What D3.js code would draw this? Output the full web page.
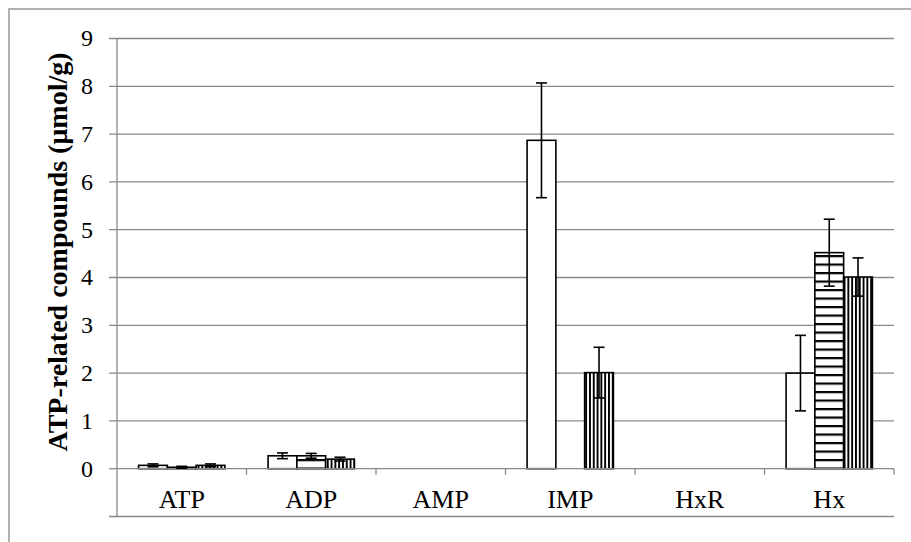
<!DOCTYPE html>
<html><head><meta charset="utf-8">
<script src="https://cdn.jsdelivr.net/npm/d3@7"></script>
<style>body{margin:0;background:#fff}svg{display:block}
text{font-family:'Liberation Serif','Times New Roman',Times,serif;fill:#000}</style>
</head><body>
<script>
const categories = ["ATP","ADP","AMP","IMP","HxR","Hx"];
const values1 = [0.07, 0.27, 0, 6.87, 0, 2.00];
const errors1 = [0.03, 0.06, 0, 1.20, 0, 0.79];
const values2 = [0.03, 0.27, 0, 0, 0, 4.52];
const errors2 = [0.02, 0.05, 0, 0, 0, 0.70];
const values3 = [0.07, 0.20, 0, 2.01, 0, 4.01];
const errors3 = [0.03, 0.04, 0, 0.53, 0, 0.40];
const yTicks = [-1,0,1,2,3,4,5,6,7,8,9];
const yTitle = "ATP-related compounds (μmol/g)";

const W = 911, H = 542;
const svg = d3.select("body").append("svg").attr("width", W).attr("height", H);
const defs = svg.append("defs");
const ph = defs.append("pattern").attr("id","hstripe").attr("patternUnits","userSpaceOnUse")
  .attr("width",8).attr("height",8.5);
ph.append("rect").attr("width",8).attr("height",8.5).attr("fill","#fff");
ph.append("rect").attr("y",0).attr("width",8).attr("height",2.2).attr("fill","#000");
const pv = defs.append("pattern").attr("id","vstripe").attr("patternUnits","userSpaceOnUse")
  .attr("width",3.8).attr("height",8);
pv.append("rect").attr("width",3.8).attr("height",8).attr("fill","#fff");
pv.append("rect").attr("x",0).attr("width",1.9).attr("height",8).attr("fill","#000");

const fills = ["#fff","url(#hstripe)","url(#vstripe)"];
const grey = "#898989";

svg.append("rect").attr("x",9).attr("y",9).attr("width",930).attr("height",560)
  .attr("fill","none").attr("stroke",grey).attr("stroke-width",1.3);

const x0 = 117, x1 = 894;
const y = d3.scaleLinear().domain([-1,9]).range([516.5,38.5]);
const x = d3.scaleBand().domain(categories).range([x0,x1]).padding(0);
const bw = x.bandwidth()/4.5;

const g = svg.append("g");
yTicks.forEach(t => {
  g.append("line").attr("x1", x0-8).attr("x2", t===0 ? x0 : x1)
    .attr("y1", y(t)).attr("y2", y(t)).attr("stroke",grey).attr("stroke-width",1.3);
  if (t >= 0) g.append("text").attr("x", 93).attr("y", y(t)).attr("dy","0.33em")
    .attr("text-anchor","end").style("font-size","24px").text(t);
});
g.append("line").attr("x1",x0).attr("x2",x0).attr("y1",y(9)).attr("y2",y(-1))
  .attr("stroke",grey).attr("stroke-width",1.3);

const series = [
  {v: values1, e: errors1},
  {v: values2, e: errors2},
  {v: values3, e: errors3}
];

series.forEach((s, si) => {
  categories.forEach((c, ci) => {
    const v = s.v[ci];
    if (!v) return;
    const bx = x(c) + x.bandwidth()/2 - 1.5*bw + si*bw;
    svg.append("rect").attr("x", bx).attr("y", y(v)).attr("width", bw).attr("height", y(0)-y(v))
      .attr("fill", fills[si]).attr("stroke","#000").attr("stroke-width",1.6);
  });
});

svg.append("line").attr("x1",x0).attr("x2",x1).attr("y1",y(0)).attr("y2",y(0))
  .attr("stroke",grey).attr("stroke-width",1.3);
categories.forEach((c, ci) => {
  const bx = x(c) + x.bandwidth();
  svg.append("line").attr("x1",bx).attr("x2",bx).attr("y1",y(0)).attr("y2",y(0)+6)
    .attr("stroke",grey).attr("stroke-width",1.3);
  svg.append("text").attr("x", x(c)+x.bandwidth()/2).attr("y", 508)
    .attr("text-anchor","middle").style("font-size","26px").text(c);
});

series.forEach((s, si) => {
  categories.forEach((c, ci) => {
    const v = s.v[ci], e = s.e[ci];
    if (!v) return;
    const cx = x(c) + x.bandwidth()/2 - 1.5*bw + si*bw + bw/2;
    const eg = svg.append("g").attr("stroke","#000").attr("stroke-width",1.6);
    eg.append("line").attr("x1",cx).attr("x2",cx).attr("y1",y(v-e)).attr("y2",y(v+e));
    [v-e, v+e].forEach(t => eg.append("line").attr("x1",cx-5.5).attr("x2",cx+5.5)
      .attr("y1",y(t)).attr("y2",y(t)));
  });
});

svg.append("text").attr("transform", `translate(67,252) rotate(-90)`)
  .attr("text-anchor","middle").style("font-weight","bold").style("font-size","28px").text(yTitle);
</script>
</body></html>
